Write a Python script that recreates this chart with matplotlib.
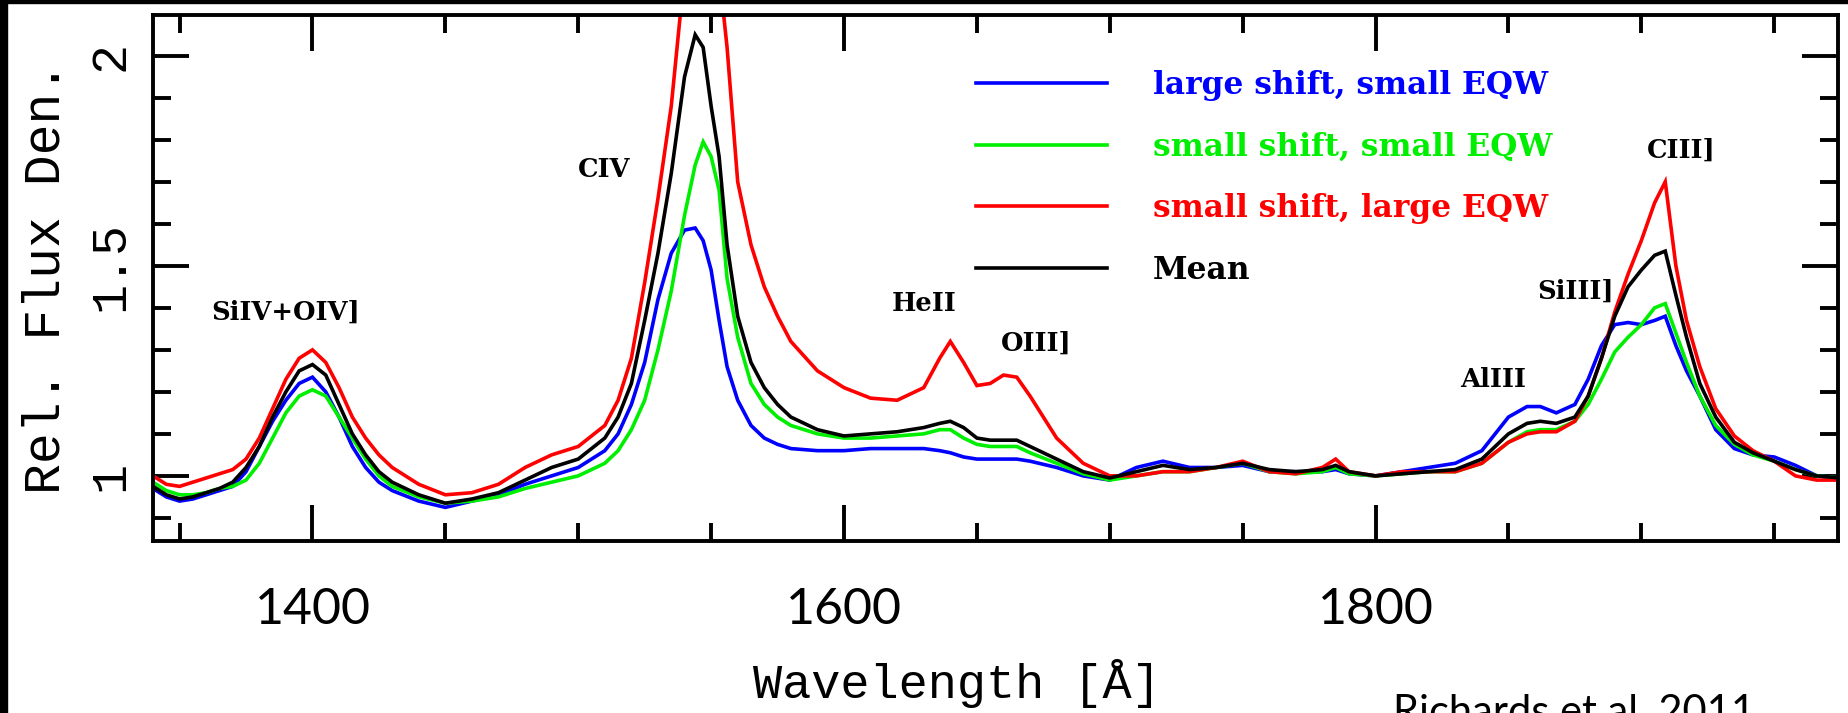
import matplotlib
matplotlib.use("Agg")
import matplotlib.pyplot as plt
from matplotlib.patches import Rectangle
from matplotlib.ticker import MultipleLocator

# composite quasar spectra
wave = [1340, 1345, 1350, 1355, 1360, 1365, 1370, 1375, 1380, 1385, 1390, 1395, 1400, 1405,
        1410, 1415, 1420, 1425, 1430, 1440, 1450, 1460, 1470, 1480, 1490, 1500, 1510, 1515,
        1520, 1525, 1530, 1535, 1540, 1544, 1547, 1550, 1553, 1556, 1560, 1565, 1570, 1575,
        1580, 1590, 1600, 1610, 1620, 1630, 1636, 1640, 1645, 1650, 1655, 1660, 1665, 1670,
        1680, 1690, 1700, 1710, 1720, 1730, 1740, 1750, 1760, 1770, 1780, 1785, 1790, 1800,
        1810, 1820, 1830, 1840, 1850, 1857, 1862, 1868, 1875, 1880, 1885, 1890, 1895, 1900,
        1905, 1909, 1913, 1917, 1922, 1928, 1935, 1942, 1950, 1958, 1966, 1975]

blue = [0.97, 0.95, 0.94, 0.945, 0.955, 0.965, 0.975, 1.01, 1.07, 1.13, 1.18, 1.22, 1.235, 1.20,
        1.14, 1.07, 1.02, 0.985, 0.965, 0.94, 0.925, 0.94, 0.955, 0.98, 1.0, 1.02, 1.06, 1.10,
        1.17, 1.27, 1.42, 1.53, 1.585, 1.59, 1.56, 1.49, 1.37, 1.26, 1.18, 1.12, 1.09, 1.075,
        1.065, 1.06, 1.06, 1.065, 1.065, 1.065, 1.06, 1.055, 1.045, 1.04, 1.04, 1.04, 1.04, 1.035,
        1.02, 1.0, 0.99, 1.02, 1.035, 1.02, 1.02, 1.025, 1.01, 1.01, 1.01, 1.015, 1.005, 1.0,
        1.01, 1.02, 1.03, 1.06, 1.14, 1.165, 1.165, 1.15, 1.17, 1.23, 1.31, 1.36, 1.365, 1.36,
        1.37, 1.38, 1.31, 1.25, 1.19, 1.11, 1.065, 1.05, 1.045, 1.025, 1.0, 0.995]

green = [0.985, 0.965, 0.955, 0.955, 0.96, 0.97, 0.975, 0.99, 1.03, 1.09, 1.15, 1.19, 1.205, 1.19,
         1.14, 1.09, 1.04, 1.0, 0.975, 0.95, 0.935, 0.94, 0.95, 0.97, 0.985, 1.0, 1.03, 1.06,
         1.11, 1.18, 1.30, 1.44, 1.62, 1.74, 1.795, 1.76, 1.68, 1.47, 1.33, 1.22, 1.17, 1.14,
         1.12, 1.10, 1.09, 1.09, 1.095, 1.10, 1.11, 1.11, 1.09, 1.075, 1.07, 1.07, 1.07, 1.055,
         1.03, 1.005, 0.99, 1.0, 1.01, 1.01, 1.02, 1.03, 1.01, 1.005, 1.01, 1.02, 1.005, 1.0,
         1.005, 1.01, 1.01, 1.03, 1.08, 1.105, 1.11, 1.11, 1.13, 1.17, 1.23, 1.295, 1.33, 1.36,
         1.40, 1.41, 1.34, 1.27, 1.19, 1.12, 1.075, 1.05, 1.035, 1.015, 1.0, 0.995]

red = [1.0, 0.98, 0.975, 0.985, 0.995, 1.005, 1.015, 1.04, 1.09, 1.16, 1.23, 1.28, 1.30, 1.27,
       1.21, 1.14, 1.09, 1.05, 1.02, 0.98, 0.955, 0.96, 0.98, 1.02, 1.05, 1.07, 1.12, 1.18,
       1.28, 1.46, 1.66, 1.88, 2.2, 2.35, 2.4, 2.35, 2.2, 2.02, 1.70, 1.55, 1.45, 1.38,
       1.32, 1.25, 1.21, 1.185, 1.18, 1.21, 1.28, 1.32, 1.27, 1.215, 1.22, 1.24, 1.235, 1.19,
       1.09, 1.03, 1.0, 1.0, 1.01, 1.01, 1.02, 1.035, 1.01, 1.005, 1.02, 1.04, 1.01, 1.0,
       1.01, 1.01, 1.01, 1.03, 1.08, 1.10, 1.105, 1.105, 1.13, 1.19, 1.28, 1.39, 1.48, 1.56,
       1.65, 1.70, 1.50, 1.37, 1.26, 1.16, 1.095, 1.06, 1.035, 1.0, 0.99, 0.99]

mean = [0.975, 0.955, 0.945, 0.95, 0.96, 0.97, 0.985, 1.02, 1.07, 1.14, 1.20, 1.25, 1.265, 1.24,
        1.17, 1.10, 1.05, 1.01, 0.985, 0.955, 0.935, 0.945, 0.96, 0.99, 1.02, 1.04, 1.09, 1.14,
        1.22, 1.37, 1.53, 1.72, 1.95, 2.05, 2.02, 1.88, 1.76, 1.55, 1.38, 1.27, 1.21, 1.17,
        1.14, 1.11, 1.095, 1.10, 1.105, 1.115, 1.125, 1.13, 1.115, 1.09, 1.085, 1.085, 1.085, 1.07,
        1.04, 1.01, 0.995, 1.01, 1.025, 1.015, 1.02, 1.03, 1.015, 1.01, 1.015, 1.025, 1.01, 1.0,
        1.005, 1.01, 1.015, 1.04, 1.10, 1.125, 1.13, 1.125, 1.14, 1.19, 1.28, 1.38, 1.45, 1.49,
        1.525, 1.535, 1.43, 1.33, 1.22, 1.14, 1.08, 1.055, 1.035, 1.015, 1.0, 0.995]

series_labels = ["large shift, small EQW", "small shift, small EQW",
                 "small shift, large EQW", "Mean"]
series_colors = ["#0000ff", "#00ee00", "#ff0000", "#000000"]

lines = ["SiIV+OIV]", "CIV", "HeII", "OIII]", "AlIII", "SiIII]", "CIII]"]
line_x = [1362, 1500, 1618, 1659, 1832, 1861, 1902]
line_y = [1.39, 1.73, 1.41, 1.315, 1.23, 1.44, 1.775]

fig = plt.figure(figsize=(18.48, 7.13), dpi=100)
ax = fig.add_axes([153 / 1848, 1 - 541 / 713, 1685 / 1848, 526 / 713])

for vals, lab, col in zip([blue, green, red, mean], series_labels, series_colors):
    ax.plot(wave, vals, color=col, lw=2.6, label=lab, solid_joinstyle="miter")

ax.set_xlim(1340, 1974)
ax.set_ylim(0.845, 2.097)

ax.xaxis.set_major_locator(MultipleLocator(200))
ax.xaxis.set_minor_locator(MultipleLocator(50))
ax.yaxis.set_major_locator(MultipleLocator(0.5))
ax.yaxis.set_minor_locator(MultipleLocator(0.1))
ax.tick_params(which="both", direction="in", top=True, right=True, width=2.8)
ax.tick_params(which="major", length=26)
ax.tick_params(which="minor", length=13)
ax.tick_params(axis="x", which="major", pad=33, labelsize=36)
ax.tick_params(axis="y", which="major", pad=14, labelsize=36)
for lab in ax.get_xticklabels():
    lab.set_family("Lato")
ax.set_yticks([1, 1.5, 2])
ax.set_yticklabels(["1", "1.5", "2"], rotation=90, va="center",
                   family="Liberation Mono")
for sp in ax.spines.values():
    sp.set_linewidth(2.8)

ax.set_ylabel("Rel. Flux Den.", family="Liberation Mono", fontsize=37, labelpad=12)
fig.text(957 / 1848, 1 - 684 / 713, "Wavelength [Å]", family="Liberation Mono",
         fontsize=35, ha="center", va="center")

for name, lx, ly in zip(lines, line_x, line_y):
    ax.text(lx, ly, name, family="DejaVu Serif", fontweight="bold",
            fontsize=18.5, ha="left", va="center")

ax.legend(loc="upper left", bbox_to_anchor=((976 - 153) / 1685, (541 - 70) / 526),
          frameon=False, borderpad=0, borderaxespad=0, handlelength=4.2,
          handletextpad=1.45, labelspacing=0.98, labelcolor="linecolor",
          prop={"family": "DejaVu Serif", "weight": "bold", "size": 22.5})

fig.text(1393 / 1848, 1 - 713 / 713, "Richards et al. 2011", family="Lato",
         fontsize=30, ha="left", va="center")

# black frame remnants at the left and top edges
fig.patches.append(Rectangle((0, 0), 7 / 1848, 1, transform=fig.transFigure,
                             color="black", zorder=10))
fig.patches.append(Rectangle((0, 1 - 3 / 713), 1, 3 / 713, transform=fig.transFigure,
                             color="black", zorder=10))

fig.savefig("out.png", dpi=100)
